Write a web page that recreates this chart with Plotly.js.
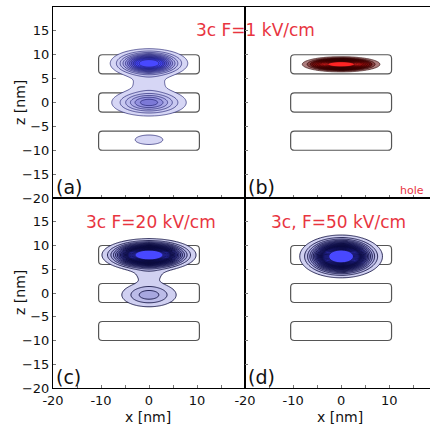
<!DOCTYPE html>
<html>
<head>
<meta charset="utf-8">
<script src="https://cdn.plot.ly/plotly-3.0.1.min.js"></script>
<style>html,body{margin:0;padding:0;background:#fff;}#chart{width:430px;height:427px;}</style>
</head>
<body>
<div id="chart"></div>
<script>
// ---- Data (lobe parameters of the probability densities, nm) ----
const panelLabels = ['(a)', '(b)', '(c)', '(d)'];
const panelTitles = ['3c F=1 kV/cm', '3c F=20 kV/cm', '3c, F=50 kV/cm'];
const holeLabel = 'hole';

// (a) electron, F = 1 kV/cm
const aZc  = [8.2, 0.0, 4.0, -7.8];
const aAmp = [1.0, 0.45, 0.08, 0.075];
const aSx  = [3.3, 3.7, 3.0, 3.2];
const aSz  = [1.25, 1.35, 1.3, 1.1];
// (b) hole, F = 1 kV/cm
const bZc  = [8.0];
const bAmp = [1.0];
const bSx  = [3.3];
const bSz  = [0.65];
// (c) electron, F = 20 kV/cm
const cZc  = [8.0, -0.4, 3.8];
const cAmp = [1.0, 0.12, 0.04];
const cSx  = [3.7, 3.4, 2.6];
const cSz  = [1.3, 1.5, 1.2];
// (d) electron, F = 50 kV/cm
const dZc  = [7.7];
const dAmp = [1.0];
const dSx  = [3.25];
const dSz  = [1.7];

// quantum-dot outlines
const qdX = [-10.5, 10.5];
const qdZ = [[6, 10], [-2, 2], [-10, -6]];

const xTicks = [-20, -15, -10, -5, 0, 5, 10, 15];
const xTickText = ['-20', '', '-10', '', '0', '', '10', ''];
const zTicks = [-20, -15, -10, -5, 0, 5, 10, 15];

// ---- build grids ----
const grid = [];
for (let v = -20; v <= 20.0001; v += 0.2) grid.push(+v.toFixed(2));

function field(zc, amp, sx, sz) {
  const Z = [];
  for (const zz of grid) {
    const row = [];
    for (const xx of grid) {
      let s = 0;
      for (let i = 0; i < zc.length; i++) {
        s += amp[i] * Math.exp(-(xx * xx) / (2 * sx[i] * sx[i]) - ((zz - zc[i]) ** 2) / (2 * sz[i] * sz[i]));
      }
      row.push(s);
    }
    Z.push(row);
  }
  return Z;
}

const blueScaleA = [[0, 'rgba(255,255,255,0)'], [0.02, '#e0e0f8'], [0.3, '#b4b4ea'], [0.55, '#6e6ad2'], [0.75, '#4646d8'], [0.82, '#4848ff'], [1, '#4848ff']];
const blueScale = [[0, 'rgba(255,255,255,0)'], [0.02, '#dcdcf6'], [0.15, '#a4a4de'], [0.4, '#3c3c9c'], [0.62, '#1e1e72'], [0.7, '#3434c4'], [0.78, '#4848ff'], [1, '#4848ff']];
const redScale = [[0, 'rgba(255,255,255,0)'], [0.02, '#c8a8a8'], [0.2, '#6a1414'], [0.5, '#a81010'], [0.7, '#ff2424'], [1, '#ff2424']];

function contourTrace(Z, xa, ya, start, end, size, scale, lineColor, lw) {
  return {
    type: 'contour', x: grid, y: grid, z: Z, xaxis: xa, yaxis: ya,
    zmin: 0, zmax: 1, zauto: false,
    autocontour: false,
    contours: {start: start, end: end, size: size, coloring: 'fill'},
    colorscale: scale, showscale: false, hoverinfo: 'skip',
    line: {color: lineColor, width: lw, smoothing: 1}
  };
}

const data = [
  contourTrace(field(aZc, aAmp, aSx, aSz), 'x', 'y', 0.05, 0.82, 0.07, blueScaleA, 'rgba(30,30,110,0.85)', 0.8),
  contourTrace(field(bZc, bAmp, bSx, bSz), 'x2', 'y2', 0.05, 0.72, 0.05, redScale, 'rgba(40,0,0,0.9)', 0.7),
  contourTrace(field(cZc, cAmp, cSx, cSz), 'x3', 'y3', 0.03, 0.74, 0.035, blueScale, 'rgba(10,10,60,0.95)', 0.9),
  contourTrace(field(dZc, dAmp, dSx, dSz), 'x4', 'y4', 0.03, 0.74, 0.035, blueScale, 'rgba(10,10,60,0.95)', 0.9)
];

// ---- layout ----
const W = 430, H = 427;
const fx = px => px / W;
const fy = py => 1 - py / H;
const leftDom = [fx(53), fx(245)];
const rightDom = [fx(245), 1];
const topDom = [fy(198), fy(7)];
const botDom = [fy(388), fy(198)];
const tickFont = {family: 'DejaVu Sans', size: 13, color: '#111'};

function xAxis(dom, range, anchor, labels) {
  return {domain: dom, range: range, anchor: anchor, showline: true, mirror: true,
    linecolor: '#000', linewidth: 1, ticks: 'inside', ticklen: 3, tickcolor: '#777',
    tickvals: xTicks, ticktext: xTickText, showticklabels: labels, tickfont: tickFont,
    showgrid: false, zeroline: false, fixedrange: true};
}
function yAxis(dom, anchor, labels) {
  return {domain: dom, range: [-20, 20], anchor: anchor, showline: true, mirror: true,
    linecolor: '#000', linewidth: 1, ticks: 'inside', ticklen: 3, tickcolor: '#777',
    tickvals: zTicks, showticklabels: labels, tickfont: tickFont,
    showgrid: false, zeroline: false, fixedrange: true};
}

function rrect(x0, x1, y0, y1, r) {
  return `M ${x0 + r},${y0} L ${x1 - r},${y0} Q ${x1},${y0} ${x1},${y0 + r} L ${x1},${y1 - r} Q ${x1},${y1} ${x1 - r},${y1} L ${x0 + r},${y1} Q ${x0},${y1} ${x0},${y1 - r} L ${x0},${y0 + r} Q ${x0},${y0} ${x0 + r},${y0} Z`;
}
const shapes = [];
[['x', 'y'], ['x2', 'y2'], ['x3', 'y3'], ['x4', 'y4']].forEach(([xr, yr]) => {
  qdZ.forEach(zz => {
    shapes.push({type: 'path', xref: xr, yref: yr, layer: 'below',
      path: rrect(qdX[0], qdX[1], zz[0], zz[1], 0.8),
      line: {color: '#555', width: 1.2}, fillcolor: 'rgba(0,0,0,0)'});
  });
});

const red = '#e8353f';
const titleFont = {family: 'DejaVu Sans', size: 17, color: red};
const labFont = {family: 'DejaVu Sans', size: 19, color: '#111'};
const axFont = {family: 'DejaVu Sans', size: 14, color: '#111'};
function ann(text, x, y, font, xanchor, extra) {
  return Object.assign({text: text, xref: 'paper', yref: 'paper', x: fx(x), y: fy(y),
    xanchor: xanchor || 'center', yanchor: 'middle', showarrow: false, font: font}, extra || {});
}
const annotations = [
  ann(panelTitles[0], 255, 30, titleFont),
  ann(panelTitles[1], 151, 222, titleFont),
  ann(panelTitles[2], 338, 222, titleFont),
  ann(holeLabel, 412, 190, {family: 'DejaVu Sans', size: 11, color: red}),
  ann(panelLabels[0], 54, 187, labFont, 'left'),
  ann(panelLabels[1], 246, 187, labFont, 'left'),
  ann(panelLabels[2], 54, 377, labFont, 'left'),
  ann(panelLabels[3], 246, 377, labFont, 'left'),
  ann('x [nm]', 148, 417, axFont),
  ann('x [nm]', 340, 417, axFont),
  ann('z [nm]', 20, 103, axFont, 'center', {textangle: -90}),
  ann('z [nm]', 20, 293, axFont, 'center', {textangle: -90})
];

const layout = {
  width: W, height: H, margin: {l: 0, r: 0, t: 0, b: 0},
  paper_bgcolor: '#fff', plot_bgcolor: '#fff', showlegend: false,
  xaxis: xAxis(leftDom, [-20, 20], 'y', false),
  yaxis: yAxis(topDom, 'x', true),
  xaxis2: xAxis(rightDom, [-20, 18.5], 'y2', false),
  yaxis2: yAxis(topDom, 'x2', false),
  xaxis3: xAxis(leftDom, [-20, 20], 'y3', true),
  yaxis3: yAxis(botDom, 'x3', true),
  xaxis4: xAxis(rightDom, [-20, 18.5], 'y4', true),
  yaxis4: yAxis(botDom, 'x4', false),
  shapes: shapes,
  annotations: annotations
};

Plotly.newPlot('chart', data, layout, {displayModeBar: false, staticPlot: true});
</script>
</body>
</html>
